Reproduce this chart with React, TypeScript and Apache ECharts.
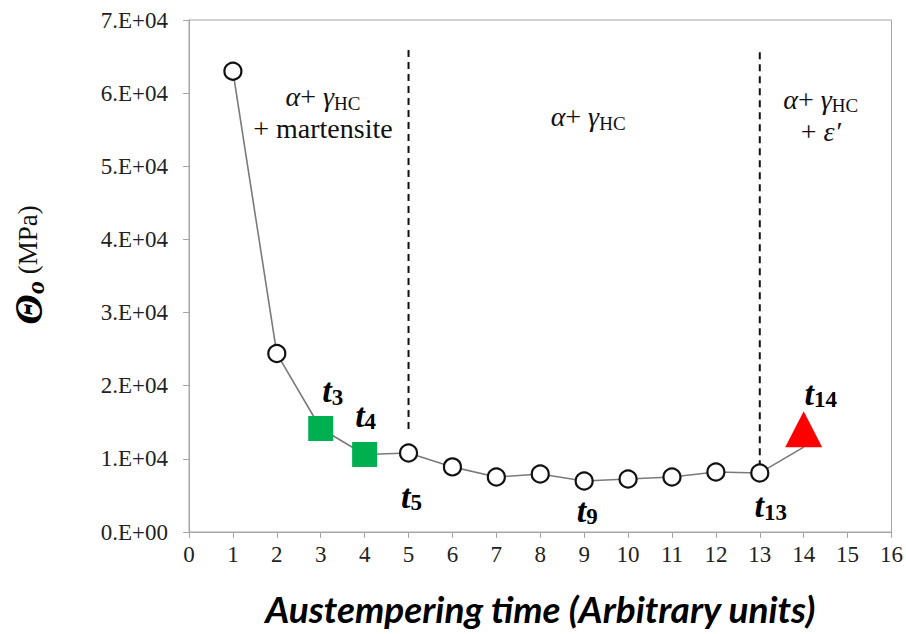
import React, { useEffect, useRef } from 'react';
import * as echarts from 'echarts';

// ---- data ----
const times = [1, 2, 3, 4, 5, 6, 7, 8, 9, 10, 11, 12, 13, 14];
const thetaValues = [63000, 24400, 14150, 10600, 10800, 8900, 7520, 7930, 6970, 7250, 7520, 8200, 8070, 11600];
const markerKinds = ['open', 'open', 'square', 'square', 'open', 'open', 'open', 'open', 'open', 'open', 'open', 'open', 'open', 'triangle'];
const labelTimes = [3, 4, 5, 9, 13, 14];
const labelSubs = ['3', '4', '5', '9', '13', '14'];
const yTickLabels = ['0.E+00', '1.E+04', '2.E+04', '3.E+04', '4.E+04', '5.E+04', '6.E+04', '7.E+04'];
const boundaryTimes = [5, 13];
const boundaryTop = [65900, 65600];
const boundaryBottom = [13950, 9200];
const phaseX = [3.05, 9.09, 14.39];
const phaseY = [57300, 56800, 57000];
const phaseNames = [
  '{ga|α}{pl|+ }{ga|γ}{hc|HC}\n{pl|+ martensite}',
  '{ga|α}{pl|+ }{ga|γ}{hc|HC}',
  '{ga|α}{pl|+ }{ga|γ}{hc|HC}\n{pl|+ }{ga|ε′}',
];

const serif = "'Liberation Serif', 'Times New Roman', serif";

const labelOffsets: Record<number, [number, number]> = {
  3: [12, -38],
  4: [1, -39],
  5: [3, 43],
  9: [3, 29],
  13: [11, 33],
  14: [17, -36],
};

const tRich = {
  t: { fontFamily: serif, fontWeight: 'bold', fontStyle: 'italic', fontSize: 34, color: '#000', lineHeight: 36 },
  s: { fontFamily: serif, fontWeight: 'bold', fontStyle: 'normal', fontSize: 23, color: '#000', lineHeight: 20, verticalAlign: 'bottom' },
};

const phaseRich = {
  ga: { fontFamily: serif, fontStyle: 'italic', fontWeight: 'normal', fontSize: 28, fill: '#111', lineHeight: 32 },
  pl: { fontFamily: serif, fontStyle: 'normal', fontWeight: 'normal', fontSize: 28, fill: '#111', lineHeight: 32 },
  hc: { fontFamily: serif, fontStyle: 'normal', fontWeight: 'normal', fontSize: 19, fill: '#111', lineHeight: 23, verticalAlign: 'bottom' },
};

function pointStyle(kind: string) {
  if (kind === 'square') {
    return { symbol: 'rect', symbolSize: 25, itemStyle: { color: '#00b050', borderWidth: 0 } };
  }
  if (kind === 'triangle') {
    return { symbol: 'triangle', symbolSize: [37, 36], symbolOffset: [0, -18], itemStyle: { color: '#ff0000', borderWidth: 0 } };
  }
  return { symbol: 'circle', symbolSize: 17, itemStyle: { color: '#ffffff', borderColor: '#111111', borderWidth: 2.2 } };
}

export default function App() {
  const ref = useRef<HTMLDivElement>(null);
  useEffect(() => {
    const chart = echarts.init(ref.current!, null, { renderer: 'svg' });
    const mainData = times.map((t, i) => {
      const li = labelTimes.indexOf(t);
      const item: any = { value: [t, thetaValues[i]], ...pointStyle(markerKinds[i]) };
      if (li >= 0) {
        item.label = {
          show: true,
          position: 'inside',
          offset: labelOffsets[t],
          align: 'center',
          verticalAlign: 'middle',
          fontFamily: serif,
          color: '#000',
          formatter: `{t|t}{s|${labelSubs[li]}}`,
          rich: tRich,
        };
      }
      return item;
    });
    const boundarySeries = boundaryTimes.map((bt, i) => ({
      type: 'line',
      data: [[bt, boundaryTop[i]], [bt, boundaryBottom[i]]],
      symbol: 'none',
      lineStyle: { color: '#111', width: 2, type: [7, 5] },
      z: 1,
      silent: true,
    }));
    const option: any = {
      animation: false,
      backgroundColor: '#ffffff',
      grid: { left: 189, top: 20, right: 14, bottom: 102, show: true, borderColor: '#a6a6a6', borderWidth: 1 },
      xAxis: {
        type: 'value',
        min: 0,
        max: 16,
        interval: 1,
        axisLine: { show: true, lineStyle: { color: '#a6a6a6', width: 1 } },
        axisTick: { show: true, inside: false, length: 6, lineStyle: { color: '#a6a6a6' } },
        splitLine: { show: false },
        axisLabel: { fontFamily: serif, fontSize: 23, color: '#222', margin: 11 },
        name: 'Austempering time (Arbitrary units)',
        nameLocation: 'middle',
        nameGap: 58,
        nameTextStyle: { fontFamily: "Lato, 'Open Sans', sans-serif", fontWeight: 'bold', fontStyle: 'italic', fontSize: 37, color: '#000' },
      },
      yAxis: {
        type: 'value',
        min: 0,
        max: 70000,
        interval: 10000,
        axisLine: { show: true, lineStyle: { color: '#a6a6a6', width: 1 } },
        axisTick: { show: true, inside: false, length: 6, lineStyle: { color: '#a6a6a6' } },
        splitLine: { show: false },
        axisLabel: {
          fontFamily: serif,
          fontSize: 23,
          color: '#222',
          margin: 21,
          formatter: (v: number) => yTickLabels[Math.round(v / 10000)],
        },
      },
      graphic: [
        {
          id: 'ytitle',
          type: 'text',
          x: 28,
          y: 265,
          rotation: Math.PI / 2,
          style: {
            text: '{th|Θ}{o|o}{u| (MPa)}',
            align: 'center',
            verticalAlign: 'middle',
            fontFamily: serif,
            fontSize: 27,
            rich: {
              th: { fontFamily: serif, fontWeight: 'bold', fontStyle: 'italic', fontSize: 40, fill: '#000', lineHeight: 40 },
              o: { fontFamily: serif, fontWeight: 'bold', fontStyle: 'italic', fontSize: 26, fill: '#000', lineHeight: 28, verticalAlign: 'bottom' },
              u: { fontFamily: serif, fontWeight: 'normal', fontStyle: 'normal', fontSize: 27, fill: '#111', lineHeight: 40 },
            },
          },
        },
      ],
      series: [
        ...boundarySeries,
        {
          type: 'line',
          data: mainData,
          showAllSymbol: true,
          lineStyle: { color: '#7a7a7a', width: 1.6 },
          z: 3,
          label: { show: false },
        },
      ],
    };
    chart.setOption(option);
    const phaseGraphics = phaseX.map((x, i) => {
      const px = chart.convertToPixel({ gridIndex: 0 }, [x, phaseY[i]]) as number[];
      return {
        id: 'phase' + i,
        type: 'text',
        x: px[0],
        y: px[1],
        z: 10,
        style: {
          text: phaseNames[i],
          align: 'center',
          verticalAlign: 'middle',
          fontFamily: serif,
          fontSize: 28,
          fill: '#111',
          rich: phaseRich,
        },
      };
    });
    chart.setOption({ graphic: phaseGraphics });
    return () => chart.dispose();
  }, []);
  return <div ref={ref} style={{ position: 'fixed', left: 0, top: 0, width: 906, height: 634 }} />;
}
